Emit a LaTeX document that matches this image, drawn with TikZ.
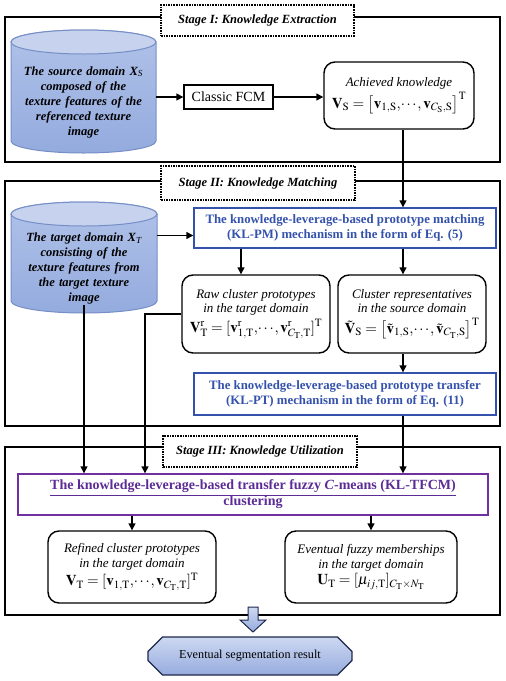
\documentclass[tikz,border=0pt]{standalone}
\usepackage{mathptmx}
\usepackage[no-math]{fontspec}
\setmainfont{Liberation Serif}
\usetikzlibrary{arrows.meta,shapes.misc}
\definecolor{klblue}{RGB}{52,82,172}
\definecolor{klpurple}{RGB}{92,44,150}
\definecolor{klpurpleb}{RGB}{112,48,160}
\definecolor{cylline}{RGB}{118,142,198}
\definecolor{cyltop}{RGB}{198,210,238}
\definecolor{cylA}{RGB}{176,194,233}
\definecolor{cylB}{RGB}{148,171,222}
\definecolor{segA}{RGB}{205,216,241}
\definecolor{segB}{RGB}{150,172,222}
\definecolor{segline}{RGB}{30,40,75}
\newcommand{\eqsz}{\fontsize{15}{17}\selectfont}
\newcommand{\tdots}{\mkern-2mu\cdots\mkern-1mu}
\newcommand{\mycyl}[4]{%
  \pgfmathsetmacro\cylcx{(#1+#2)/2}%
  \pgfmathsetmacro\cylrx{(#2-#1)/2}%
  \pgfmathsetmacro\cylyt{#3+12}%
  \pgfmathsetmacro\cylyb{#4-12}%
  \path[draw=cylline, line width=1pt, top color=cylA, bottom color=cylB]
    (#1,\cylyt) -- (#1,\cylyb)
    arc[start angle=180, end angle=360, x radius=\cylrx pt, y radius=12pt]
    -- (#2,\cylyt)
    arc[start angle=0, end angle=180, x radius=\cylrx pt, y radius=12pt] -- cycle;
  \path[draw=cylline, line width=1pt, fill=cyltop] (\cylcx,\cylyt) ellipse [x radius=\cylrx pt, y radius=12pt];
}
\tikzset{
  frame/.style={draw, line width=1.6pt},
  stagelab/.style={draw, densely dotted, line width=1.6pt, fill=white, inner sep=0pt,
    font=\fontsize{12.5}{15}\selectfont\bfseries\itshape},
  cyltext/.style={inner sep=0pt, text width=140pt, align=center,
    font=\fontsize{12.5}{15}\selectfont\bfseries\itshape},
  rbox/.style={draw, line width=1.4pt, rounded corners=11pt, inner sep=0pt, align=center,
    font=\fontsize{13}{14.5}\selectfont},
  plainbox/.style={draw, line width=1.3pt, inner sep=0pt, align=center,
    font=\fontsize{14}{16}\selectfont},
  bluebox/.style={draw=klblue, line width=1.4pt, inner sep=0pt, align=center, text=klblue,
    font=\fontsize{12.8}{15.5}\selectfont\bfseries},
  purplebox/.style={draw=klpurpleb, line width=1.4pt, inner sep=0pt, align=center, text=klpurple,
    font=\fontsize{14}{16}\selectfont\bfseries},
  arr/.style={line width=1.4pt, -{Triangle[length=7pt,width=7pt]}},
}
\begin{document}
\begin{tikzpicture}[x=1pt, y=-1pt]
\useasboundingbox (0,0) rectangle (506,681);

% ---------- Stage I ----------
\draw[frame] (5,17) rectangle (500,162);
\node[stagelab, minimum width=193pt, minimum height=31pt] (lab1) at (257.5,20.5) {Stage I: Knowledge Extraction};
\mycyl{11}{156}{30}{153}
\node[inner sep=0pt, minimum width=145pt, minimum height=123pt] (src) at (83.5,91.5) {};
\node[cyltext] (srctxt) at (83.5,102) {The source domain \textit{X}\textsubscript{\mdseries S}\\ composed of the\\ texture features of the\\ referenced texture\\ image};
\node[plainbox, minimum width=89pt, minimum height=24pt] (fcm) at (228.5,97) {Classic FCM};
\node[rbox, minimum width=150pt, minimum height=67pt] (ak) at (399,95.5)
  {\textit{Achieved knowledge}\\[2pt]
   {\eqsz $\mathbf{V}_{\mathrm{S}}=\bigl[\mathbf{v}_{1,\mathrm{S}},\tdots,\mathbf{v}_{C_{\mathrm{S}},\mathrm{S}}\bigr]^{\mathrm{T}}$}};

% ---------- Stage II ----------
\draw[frame] (5,181) rectangle (500,426);
\node[stagelab, minimum width=194pt, minimum height=34pt] (lab2) at (258,183) {Stage II: Knowledge Matching};
\mycyl{11}{157}{202}{313}
\node[inner sep=0pt, minimum width=146pt, minimum height=111pt] (tgt) at (84,257.5) {};
\node[cyltext] (tgttxt) at (84,268.5) {The target domain \textit{X}\textsubscript{\mdseries T}\\ consisting of the\\ texture features from\\ the target texture\\ image};
\node[bluebox, minimum width=302pt, minimum height=40pt] (klpm) at (345,228)
  {The knowledge-leverage-based prototype matching\\ (KL-PM) mechanism in the form of Eq. (5)};
\node[rbox, minimum width=148pt, minimum height=78pt] (raw) at (256,314)
  {\textit{Raw cluster prototypes}\\ \textit{in the target domain}\\[3pt]
   {\eqsz $\mathbf{V}^{\mathrm{r}}_{\mathrm{T}}=[\mathbf{v}^{\mathrm{r}}_{1,\mathrm{T}},\tdots,\mathbf{v}^{\mathrm{r}}_{C_{\mathrm{T}},\mathrm{T}}]^{\mathrm{T}}$}};
\node[rbox, minimum width=148pt, minimum height=78pt] (rep) at (412,314)
  {\textit{Cluster representatives}\\ \textit{in the source domain}\\[4pt]
   {\eqsz $\tilde{\mathbf{V}}_{\mathrm{S}}=\bigl[\tilde{\mathbf{v}}_{1,\mathrm{S}},\tdots,\tilde{\mathbf{v}}_{C_{\mathrm{T}},\mathrm{S}}\bigr]^{\mathrm{T}}$}};
\node[bluebox, minimum width=302pt, minimum height=42pt] (klpt) at (345,394)
  {The knowledge-leverage-based prototype transfer\\ (KL-PT) mechanism in the form of Eq. (11)};

% ---------- Stage III ----------
\draw[frame] (5,447) rectangle (500,615);
\node[stagelab, minimum width=194pt, minimum height=31pt] (lab3) at (260,451.5) {Stage III: Knowledge Utilization};
\node[purplebox, minimum width=470pt, minimum height=41pt] (ktfcm) at (253,494.5)
  {\underline{The knowledge-leverage-based transfer fuzzy \textit{C}-means (KL-TFCM)}\\ clustering};
\node[rbox, minimum width=168pt, minimum height=72pt] (ref) at (132,567)
  {\textit{Refined cluster prototypes}\\ \textit{in the target domain}\\[2pt]
   {\eqsz $\mathbf{V}_{\mathrm{T}}=[\mathbf{v}_{1,\mathrm{T}},\tdots,\mathbf{v}_{C_{\mathrm{T}},\mathrm{T}}]^{\mathrm{T}}$}};
\node[rbox, minimum width=172pt, minimum height=72pt] (evm) at (371,567)
  {\textit{Eventual fuzzy memberships}\\ \textit{in the target domain}\\[2pt]
   {\eqsz $\mathbf{U}_{\mathrm{T}}=[\mu_{ij,\mathrm{T}}]_{C_{\mathrm{T}}\times N_{\mathrm{T}}}$}};

% ---------- result ----------
\path[draw=segline, line width=1pt, top color=segA, bottom color=segB]
  (248,607) -- (258,607) -- (258,620) -- (266,620) -- (253,632) -- (240,620) -- (248,620) -- cycle;
\node[draw=segline, line width=1.2pt, chamfered rectangle, chamfered rectangle xsep=8pt,
  chamfered rectangle ysep=9pt, minimum width=204pt, minimum height=38pt, inner sep=0pt,
  top color=segA, bottom color=segB, font=\fontsize{12.2}{15}\selectfont] (seg) at (250,656)
  {Eventual segmentation result};

% ---------- connectors ----------
\coordinate (colx) at (403,0);
\coordinate (col145) at (145,0);
\coordinate (col241) at (241,0);
\coordinate (pmin) at (0,235.5);
\draw[arr] (src.east |- fcm.west) -- (fcm.west);
\draw[arr] (fcm.east) -- (ak.west |- fcm.east);
\draw[arr] (ak.south -| colx) -- (klpm.north -| colx);
\draw[arr] (tgt.east |- pmin) -- (klpm.west |- pmin);
\draw[arr] (klpm.south -| col241) -- (raw.north -| col241);
\draw[arr] (klpm.south -| colx) -- (rep.north -| colx);
\draw[arr] (rep.south -| colx) -- (klpt.north -| colx);
\draw[arr] (klpt.south -| colx) -- (ktfcm.north -| colx);
\draw[arr] ([yshift=8pt]tgt.south) -- (ktfcm.north -| tgt.south);
\draw[arr] (raw.west) -| (ktfcm.north -| col145);
\draw[arr] (ktfcm.south -| ref.north) -- (ref.north);
\draw[arr] (ktfcm.south -| evm.north) -- (evm.north);
\end{tikzpicture}
\end{document}
